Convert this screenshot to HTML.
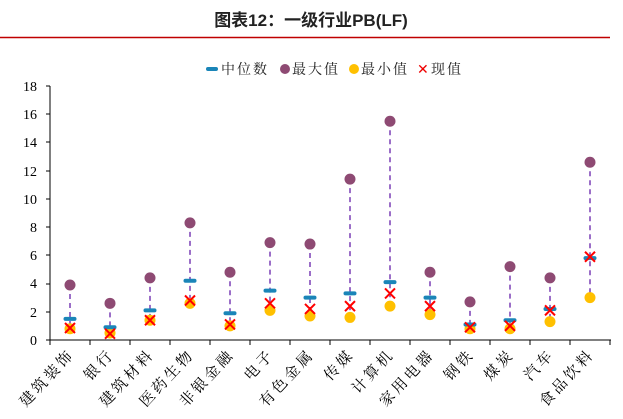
<!DOCTYPE html>
<html><head><meta charset="utf-8"><style>
html,body{margin:0;padding:0;background:#fff;width:623px;height:419px;overflow:hidden}
</style></head><body>
<svg width="623" height="419" xmlns="http://www.w3.org/2000/svg">
<text x="311" y="26" text-anchor="middle" font-family="Liberation Sans, Noto Sans CJK SC, sans-serif" font-weight="bold" font-size="17" fill="#222">图表12：一级行业PB(LF)</text>
<line x1="0" y1="37.5" x2="610" y2="37.5" stroke="#c00000" stroke-width="1.5"/>
<g font-family="Liberation Serif, Noto Serif CJK SC, serif" font-size="14" fill="#222" letter-spacing="2">
<rect x="206" y="67" width="12" height="4" rx="2" fill="#1a85b8"/>
<text x="221" y="74">中位数</text>
<circle cx="285" cy="69" r="5" fill="#8e4a73"/>
<text x="292" y="74">最大值</text>
<circle cx="354" cy="69" r="5" fill="#ffc000"/>
<text x="361" y="74">最小值</text>
<text x="417" y="74" fill="#e00" font-family="DejaVu Sans,sans-serif" letter-spacing="0">✕</text>
<text x="431" y="74">现值</text>
</g>
<g font-family="Liberation Serif, serif" font-size="14" fill="#000" text-anchor="end">
<text x="37" y="345">0</text><text x="37" y="317">2</text><text x="37" y="288">4</text><text x="37" y="260">6</text><text x="37" y="232">8</text><text x="37" y="204">10</text><text x="37" y="176">12</text><text x="37" y="147">14</text><text x="37" y="119">16</text><text x="37" y="91">18</text>
</g>
<line x1="50" y1="86" x2="50" y2="340" stroke="#000"/>
<g stroke="#000"><line x1="46" y1="340" x2="50" y2="340"/><line x1="46" y1="312" x2="50" y2="312"/><line x1="46" y1="284" x2="50" y2="284"/><line x1="46" y1="255" x2="50" y2="255"/><line x1="46" y1="227" x2="50" y2="227"/><line x1="46" y1="199" x2="50" y2="199"/><line x1="46" y1="171" x2="50" y2="171"/><line x1="46" y1="142" x2="50" y2="142"/><line x1="46" y1="114" x2="50" y2="114"/><line x1="46" y1="86" x2="50" y2="86"/></g>
<line x1="50" y1="340" x2="611" y2="340" stroke="#000"/>
<g id="c"></g>
</svg>
<script>
var d=[["建筑装饰",3.9,1.5,0.8,0.85],["银行",2.6,0.9,0.5,0.45],["建筑材料",4.4,2.1,1.4,1.4],["医药生物",8.3,4.2,2.6,2.8],["非银金融",4.8,1.9,1.0,1.1],["电子",6.9,3.5,2.1,2.6],["有色金属",6.8,3.0,1.7,2.2],["传媒",11.4,3.3,1.6,2.4],["计算机",15.5,4.1,2.4,3.3],["家用电器",4.8,3.0,1.8,2.4],["钢铁",2.7,1.1,0.8,0.9],["煤炭",5.2,1.4,0.8,1.0],["汽车",4.4,2.2,1.3,2.1],["食品饮料",12.6,5.8,3.0,5.9]];
var s="";function Y(v){return 340-v*14.11}
for(var i=0;i<=14;i++){var x=50+40*i;s+='<line x1="'+x+'" y1="340" x2="'+x+'" y2="345" stroke="#000"/>';}
d.forEach(function(r,i){var x=70+40*i;
s+='<line x1="'+x+'" y1="'+Y(r[1])+'" x2="'+x+'" y2="'+Y(r[3])+'" stroke="#7a3fb5" stroke-width="1.5" stroke-dasharray="5,4"/>';
s+='<circle cx="'+x+'" cy="'+Y(r[1])+'" r="5.5" fill="#8e4a73"/>';
s+='<circle cx="'+x+'" cy="'+Y(r[3])+'" r="5.5" fill="#ffc000"/>';
s+='<rect x="'+(x-6.5)+'" y="'+(Y(r[2])-2)+'" width="13" height="4" rx="2" fill="#1a85b8"/>';
var y=Y(r[4]);s+='<path d="M'+(x-5)+' '+(y-5)+'L'+(x+5)+' '+(y+5)+'M'+(x+5)+' '+(y-5)+'L'+(x-5)+' '+(y+5)+'" stroke="#f00" stroke-width="2"/>';
s+='<text transform="translate('+(x+5)+',355) rotate(-47)" text-anchor="end" font-family="Liberation Serif, Noto Serif CJK SC, serif" font-size="15" letter-spacing="3" fill="#000">'+r[0]+'</text>';});
document.getElementById("c").innerHTML=s;
</script>
</body></html>
